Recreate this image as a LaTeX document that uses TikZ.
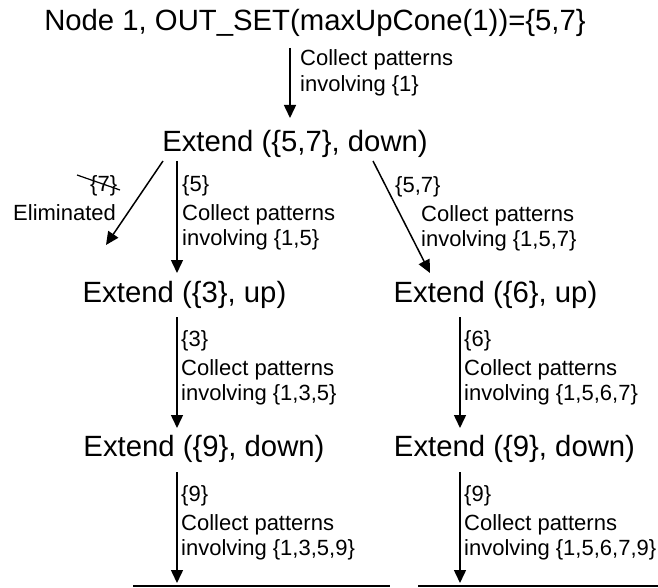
\documentclass[tikz,border=0pt]{standalone}
\usepackage{fontspec}
\setmainfont{Liberation Sans}
\usetikzlibrary{arrows.meta}
\begin{document}
\begin{tikzpicture}[x=1pt,y=-1pt,
  big/.style={font=\fontsize{29.3}{35}\selectfont, inner sep=0pt, anchor=base},
  lbl/.style={font=\fontsize{22}{25.5}\selectfont, inner sep=0pt, anchor=base west},
  arr/.style={line width=1.5pt, -{Triangle[length=13pt,width=12pt]}},
  rulebar/.style={line width=1.5pt}]
\useasboundingbox (0,0) rectangle (658,588);

% main text nodes
\node[big] (title) at (315,31) {Node 1, OUT\_SET(maxUpCone(1))=\{5,7\}};
\node[big] (e57) at (295,152) {Extend (\{5,7\}, down)};
\node[big] (e3) at (184.5,302) {Extend (\{3\}, up)};
\node[big] (e6) at (495.5,302) {Extend (\{6\}, up)};
\node[big] (e9l) at (204,456) {Extend (\{9\}, down)};
\node[big] (e9r) at (514.5,456) {Extend (\{9\}, down)};

% connector end points
\coordinate (t0) at (290,48);   \coordinate (h0) at (290,118);
\coordinate (tel) at (163,161); \coordinate (hel) at (106,245);
\coordinate (t5) at (177,161);  \coordinate (h5) at (177,273);
\coordinate (t57) at (373,161); \coordinate (h57) at (430,273);
\coordinate (t3) at (177,317);  \coordinate (h3) at (177,428);
\coordinate (t6) at (460,317);  \coordinate (h6) at (460,428);
\coordinate (t9l) at (177,472); \coordinate (h9l) at (177,583);
\coordinate (t9r) at (460,472); \coordinate (h9r) at (460,583);
\coordinate (bl1) at (133,586); \coordinate (bl2) at (390,586);
\coordinate (br1) at (418,586); \coordinate (br2) at (658,586);

% arrows
\draw[arr] (t0) -- (h0);
\draw[arr] (tel) -- (hel);
\draw[arr] (t5) -- (h5);
\draw[arr] (t57) -- (h57);
\draw[arr] (t3) -- (h3);
\draw[arr] (t6) -- (h6);
\draw[arr] (t9l) -- (h9l);
\draw[arr] (t9r) -- (h9r);
\draw[rulebar] (bl1) -- (bl2);
\draw[rulebar] (br1) -- (br2);

% labels
\node[lbl] (l0) at (300,66) {\begin{tabular}[t]{@{}l@{}}Collect patterns\\involving \{1\}\end{tabular}};

\node[lbl] (s7) at (90,192) {\{7\}};
\coordinate (x7a) at (77,175); \coordinate (x7b) at (120,190);
\draw[line width=1.2pt] (x7a) -- (x7b);
\node[lbl] (elim) at (13,220) {Eliminated};

\node[lbl] (s5) at (182,192) {\{5\}};
\node[lbl] (l5) at (182,220) {\begin{tabular}[t]{@{}l@{}}Collect patterns\\involving \{1,5\}\end{tabular}};

\node[lbl] (s57) at (395,193) {\{5,7\}};
\node[lbl] (l57) at (421,221) {\begin{tabular}[t]{@{}l@{}}Collect patterns\\involving \{1,5,7\}\end{tabular}};

\node[lbl] (s3) at (181,346) {\{3\}};
\node[lbl] (l3) at (181,375) {\begin{tabular}[t]{@{}l@{}}Collect patterns\\involving \{1,3,5\}\end{tabular}};

\node[lbl] (s6) at (464,346) {\{6\}};
\node[lbl] (l6) at (464,375) {\begin{tabular}[t]{@{}l@{}}Collect patterns\\involving \{1,5,6,7\}\end{tabular}};

\node[lbl] (s9l) at (181,501) {\{9\}};
\node[lbl] (l9l) at (181,530) {\begin{tabular}[t]{@{}l@{}}Collect patterns\\involving \{1,3,5,9\}\end{tabular}};

\node[lbl] (s9r) at (464,501) {\{9\}};
\node[lbl] (l9r) at (464,530) {\begin{tabular}[t]{@{}l@{}}Collect patterns\\involving \{1,5,6,7,9\}\end{tabular}};
\end{tikzpicture}
\end{document}
